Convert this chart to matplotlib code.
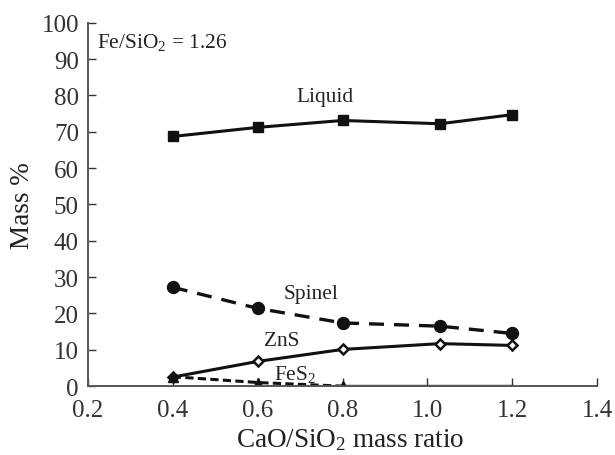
import matplotlib
matplotlib.use("Agg")
import matplotlib.pyplot as plt

plt.rcParams['font.family'] = ['Liberation Serif', 'DejaVu Serif']
plt.rcParams['mathtext.fontset'] = 'custom'
plt.rcParams['mathtext.rm'] = 'Liberation Serif'
plt.rcParams['mathtext.it'] = 'Liberation Serif:italic'

x = [0.4, 0.6, 0.8, 1.03, 1.2]
liquid = [68.7, 71.2, 73.1, 72.2, 74.7]
spinel = [27.2, 21.4, 17.4, 16.5, 14.5]
zns = [2.5, 6.8, 10.1, 11.7, 11.2]
fes2 = [2.6, 1.0, 0.0, 0.0, 0.0]

xticks = [0.2, 0.4, 0.6, 0.8, 1.0, 1.2, 1.4]
yticks = [0, 10, 20, 30, 40, 50, 60, 70, 80, 90, 100]

fig = plt.figure(figsize=(6.15, 4.56), dpi=100)
ax = fig.add_axes([0.143, 0.151, 0.828, 0.797])

c = '#111111'
ax.plot(x, liquid, '-', color=c, lw=2.2, marker='s', ms=7.8, mfc=c, mec=c)
ax.plot(x, spinel, color=c, lw=2.4, dashes=(4.5, 3), marker='o', ms=8.6, mfc=c, mec=c)
ax.plot(x, zns, '-', color=c, lw=2.2, marker='D', ms=5.2, mfc='white', mec=c, mew=1.8)
ax.plot(x[:3], fes2[:3], color=c, lw=2.2, dashes=(2.7, 1.4), marker='^', ms=6.5, mfc=c, mec=c)
ax.plot(x[2:], fes2[2:], '-', color=c, lw=2.4, solid_capstyle='projecting')

fs_note = 15.4
ax.text(0.758, 79.6, 'Liquid', fontsize=fs_note, ha='center', va='center', color='#222222')
ax.text(0.725, 25.4, 'Spinel', fontsize=fs_note, ha='center', va='center', color='#222222')
ax.text(0.656, 12.6, 'ZnS', fontsize=fs_note, ha='center', va='center', color='#222222')
ax.text(0.689, 3.4, 'FeS$_2$', fontsize=fs_note, ha='center', va='center', color='#222222')
ax.text(0.221, 94.7, 'Fe/SiO$_2$ = 1.26', fontsize=fs_note, ha='left', va='center', color='#222222')

ax.set_xlim(0.2, 1.4)
ax.set_ylim(0, 100)
ax.set_xticks(xticks)
ax.set_xticklabels([f'{t:.1f}' for t in xticks])
ax.set_yticks(yticks)
ax.tick_params(direction='in', length=6, width=1.0, labelsize=18, colors='#333333')
ax.tick_params(axis='x', pad=9)
ax.tick_params(axis='y', pad=6.5)
for s in ['top', 'right']:
    ax.spines[s].set_visible(False)
for s in ['left', 'bottom']:
    ax.spines[s].set_linewidth(1.4)
    ax.spines[s].set_color('#555555')

ax.set_xlabel('CaO/SiO$_2$ mass ratio', fontsize=19.5, color='#222222', va='center')
ax.xaxis.set_label_coords(0.515, -0.146)
ax.set_ylabel('Mass %', fontsize=19.5, color='#222222', va='center')
ax.yaxis.set_label_coords(-0.128, 0.5)

fig.savefig('out.png', dpi=100)
